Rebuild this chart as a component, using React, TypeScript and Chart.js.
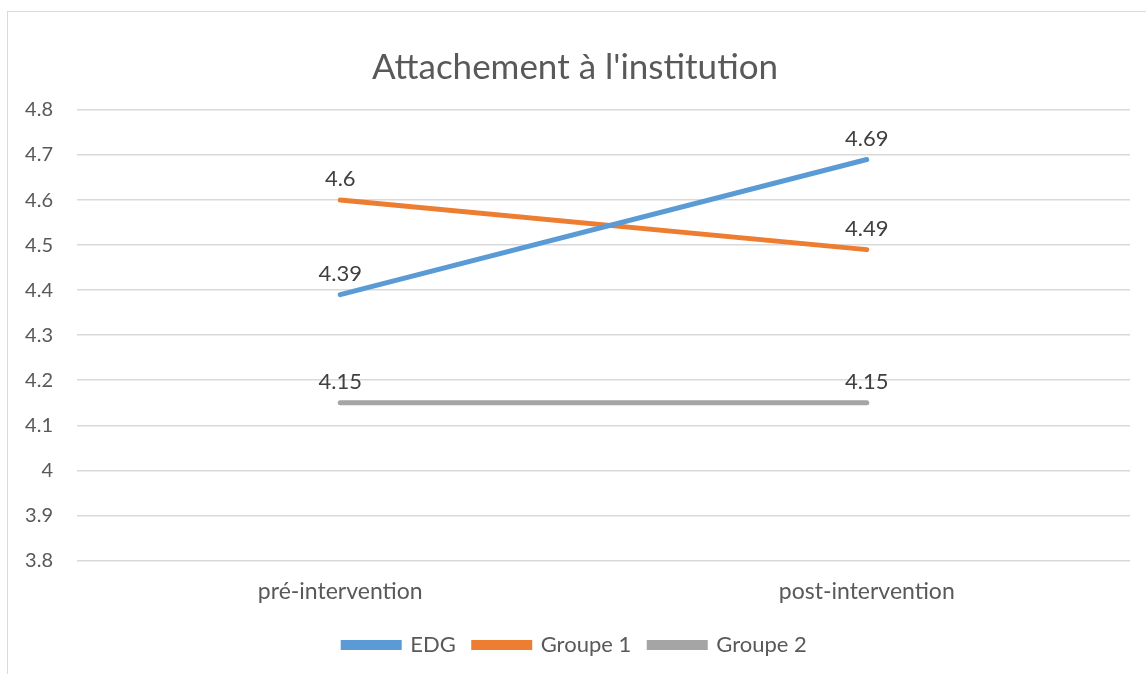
import React, { useEffect, useRef } from "react";
import { Chart, registerables } from "chart.js";

Chart.register(...registerables);

const categories = ["pré-intervention", "post-intervention"];
const seriesNames = ["EDG", "Groupe 1", "Groupe 2"];
const edgValues = [4.39, 4.69];
const groupe1Values = [4.6, 4.49];
const groupe2Values = [4.15, 4.15];
const seriesColors = ["#5B9BD5", "#ED7D31", "#A5A5A5"];
const yMin = 3.8;
const yMax = 4.8;
const yStep = 0.1;
const titleText = "Attachement à l'institution";

const FONT = "Lato, 'Open Sans', sans-serif";

const frameBorder = {
  id: "frameBorder",
  beforeDraw(chart: any) {
    const ctx = chart.ctx;
    ctx.save();
    ctx.fillStyle = "#ffffff";
    ctx.fillRect(0, 0, chart.width, chart.height);
    ctx.strokeStyle = "#D9D9D9";
    ctx.lineWidth = 1;
    ctx.strokeRect(7.5, 11.5, 3000, 3000);
    ctx.restore();
  },
};

const dataLabels = {
  id: "dataLabels",
  afterDatasetsDraw(chart: any) {
    const ctx = chart.ctx;
    ctx.save();
    ctx.font = `22px ${FONT}`;
    ctx.fillStyle = "#404040";
    ctx.textAlign = "center";
    ctx.textBaseline = "middle";
    chart.data.datasets.forEach((ds: any, i: number) => {
      const meta = chart.getDatasetMeta(i);
      meta.data.forEach((pt: any, j: number) => {
        ctx.fillText(String(ds.data[j]), pt.x, pt.y - 21);
      });
    });
    ctx.restore();
  },
};

export default function App() {
  const ref = useRef<HTMLCanvasElement>(null);
  useEffect(() => {
    if (!ref.current) return;
    const values = [edgValues, groupe1Values, groupe2Values];
    const chart = new Chart(ref.current, {
      type: "line",
      data: {
        labels: categories,
        datasets: seriesNames.map((name, i) => ({
          label: name,
          data: values[i],
          borderColor: seriesColors[i],
          backgroundColor: seriesColors[i],
          borderWidth: 5,
          borderCapStyle: "round",
          pointRadius: 0,
          tension: 0,
        })),
      },
      options: {
        animation: false,
        responsive: false,
        maintainAspectRatio: false,
        layout: { padding: { left: 20, right: 16, top: 0, bottom: 8 } },
        plugins: {
          title: {
            display: true,
            text: titleText,
            color: "#595959",
            font: { family: FONT, size: 35, weight: "normal" },
            padding: { top: 47, bottom: 21 },
          },
          legend: {
            position: "bottom",
            labels: {
              boxWidth: 56,
              boxHeight: 5,
              color: "#595959",
              font: { family: FONT, size: 22 },
              padding: 18,
            },
          },
          tooltip: { enabled: false },
        },
        scales: {
          x: {
            offset: true,
            grid: { display: false, drawTicks: false },
            border: { display: false },
            ticks: {
              color: "#595959",
              font: { family: FONT, size: 23 },
              padding: 17,
            },
            afterFit: (scale: any) => {
              scale.height = scale.height - 6;
            },
          },
          y: {
            min: yMin,
            max: yMax,
            border: { display: false },
            grid: { color: "#D9D9D9", lineWidth: 1.5, drawTicks: false },
            ticks: {
              stepSize: yStep,
              color: "#595959",
              font: { family: FONT, size: 20 },
              padding: 24,
              callback: (v: any) => String(Math.round(Number(v) * 10) / 10),
            },
            afterFit: (scale: any) => {
              scale.width = 57;
            },
          },
        },
      },
      plugins: [frameBorder, dataLabels],
    });
    return () => chart.destroy();
  }, []);
  return (
    <div style={{ position: "fixed", left: 0, top: 0, width: 1146, height: 674 }}>
      <canvas ref={ref} width={1146} height={674} style={{ display: "block" }} />
    </div>
  );
}
